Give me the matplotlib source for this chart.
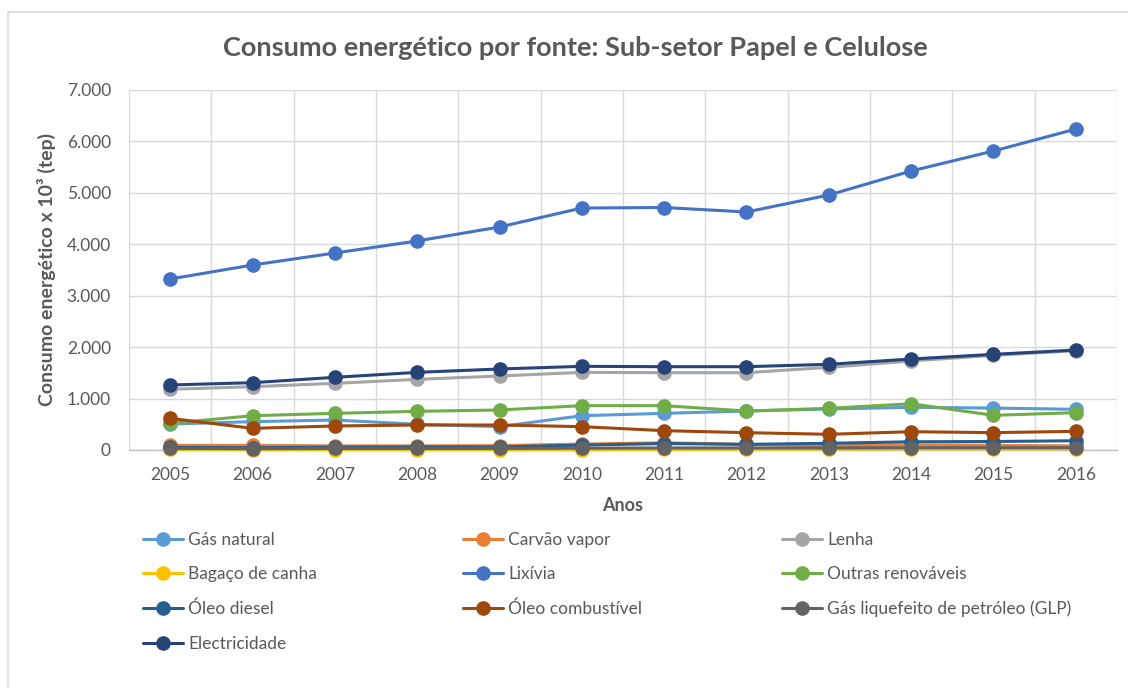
import matplotlib
matplotlib.use("Agg")
import matplotlib.pyplot as plt
from matplotlib.ticker import FuncFormatter, MultipleLocator
from matplotlib.patches import Rectangle

years = [2005, 2006, 2007, 2008, 2009, 2010, 2011, 2012, 2013, 2014, 2015, 2016]

gas_natural = [505, 551, 583, 500, 454, 667, 713, 758, 797, 830, 816, 791]
carvao_vapor = [90, 90, 80, 80, 85, 115, 140, 110, 80, 100, 90, 80]
lenha = [1180, 1231, 1296, 1374, 1439, 1510, 1503, 1503, 1607, 1730, 1841, 1930]
bagaco = [10, 5, 5, 5, 5, 5, 10, 15, 15, 20, 20, 20]
lixivia = [3325, 3597, 3830, 4064, 4336, 4705, 4715, 4628, 4958, 5425, 5814, 6240]
outras_renovaveis = [519, 667, 713, 752, 778, 862, 862, 758, 810, 900, 674, 726]
oleo_diesel = [50, 45, 55, 60, 60, 95, 125, 110, 130, 160, 165, 180]
oleo_combustivel = [616, 421, 467, 486, 486, 454, 376, 337, 305, 356, 337, 363]
glp = [30, 25, 30, 30, 30, 35, 40, 40, 40, 45, 45, 45]
electricidade = [1264, 1309, 1413, 1510, 1575, 1627, 1620, 1620, 1666, 1769, 1860, 1944]

series = [
    ("Gás natural", gas_natural, "#5B9BD5"),
    ("Carvão vapor", carvao_vapor, "#ED7D31"),
    ("Lenha", lenha, "#A5A5A5"),
    ("Bagaço de canha", bagaco, "#FFC000"),
    ("Lixívia", lixivia, "#4472C4"),
    ("Outras renováveis", outras_renovaveis, "#70AD47"),
    ("Óleo diesel", oleo_diesel, "#255E91"),
    ("Óleo combustível", oleo_combustivel, "#9E480E"),
    ("Gás liquefeito de petróleo (GLP)", glp, "#636363"),
    ("Electricidade", electricidade, "#264478"),
]

FONT = ["Lato", "DejaVu Sans"]
TXT = "#595959"
plt.rcParams["font.family"] = FONT

fig = plt.figure(figsize=(11.28, 6.88), dpi=100)
fig.patch.set_facecolor("white")
border = Rectangle((8 / 1128, -0.05), 1.2, 1 - 12 / 688 + 0.05, transform=fig.transFigure,
                   fill=False, edgecolor="#D9D9D9", linewidth=1.2, clip_on=False)
fig.patches.append(border)

ax = fig.add_axes([129 / 1128, 1 - 450 / 688, (1117 - 129) / 1128, 360 / 688])

x = list(range(len(years)))
handles = []
for name, vals, col in series:
    h, = ax.plot(x, vals, color=col, linewidth=2.2, marker="o", markersize=9.5,
                 label=name, solid_capstyle="round", clip_on=False, zorder=3)
    handles.append(h)

ax.set_xlim(-0.5, len(years) - 0.5)
ax.set_ylim(0, 7000)
ax.yaxis.set_major_locator(MultipleLocator(1000))
ax.yaxis.set_major_formatter(FuncFormatter(lambda v, p: f"{v:,.0f}".replace(",", ".")))
ax.set_xticks(x)
ax.set_xticklabels([str(y) for y in years])
ax.set_xticks([i + 0.5 for i in range(-1, len(years))], minor=True)
ax.grid(True, axis="y", which="major", color="#D9D9D9", linewidth=1)
ax.grid(True, axis="x", which="minor", color="#D9D9D9", linewidth=1)
ax.grid(False, axis="x", which="major")
ax.set_axisbelow(True)
for s in ["top", "right", "left"]:
    ax.spines[s].set_visible(False)
ax.spines["bottom"].set_color("#BFBFBF")
ax.spines["bottom"].set_linewidth(1)
ax.tick_params(axis="both", which="both", length=0, colors=TXT, labelsize=12.5)
ax.tick_params(axis="y", pad=13)
ax.tick_params(axis="x", pad=12)

ax.set_xlabel("Anos", fontsize=13, fontweight="bold", color=TXT, labelpad=10)
ax.set_ylabel("Consumo energético x 10³ (tep)", fontsize=14, fontweight="bold", color=TXT, labelpad=8)

fig.text(0.51, 1 - 48 / 688, "Consumo energético por fonte: Sub-setor Papel e Celulose",
         ha="center", va="center", fontsize=19.5, fontweight="bold", color=TXT)

cols = [[0, 3, 6, 9], [1, 4, 7], [2, 5, 8]]
col_x = [143, 463, 782]
for ci, idxs in enumerate(cols):
    fig.legend([handles[i] for i in idxs], [series[i][0] for i in idxs],
               loc="upper left", bbox_to_anchor=(col_x[ci] / 1128, 1 - 532 / 688),
               frameon=False, fontsize=12.5, handlelength=2.3, handletextpad=0.3,
               labelspacing=1.06, borderpad=0, borderaxespad=0, labelcolor=TXT)

fig.savefig("out.png", dpi=100, facecolor="white")
